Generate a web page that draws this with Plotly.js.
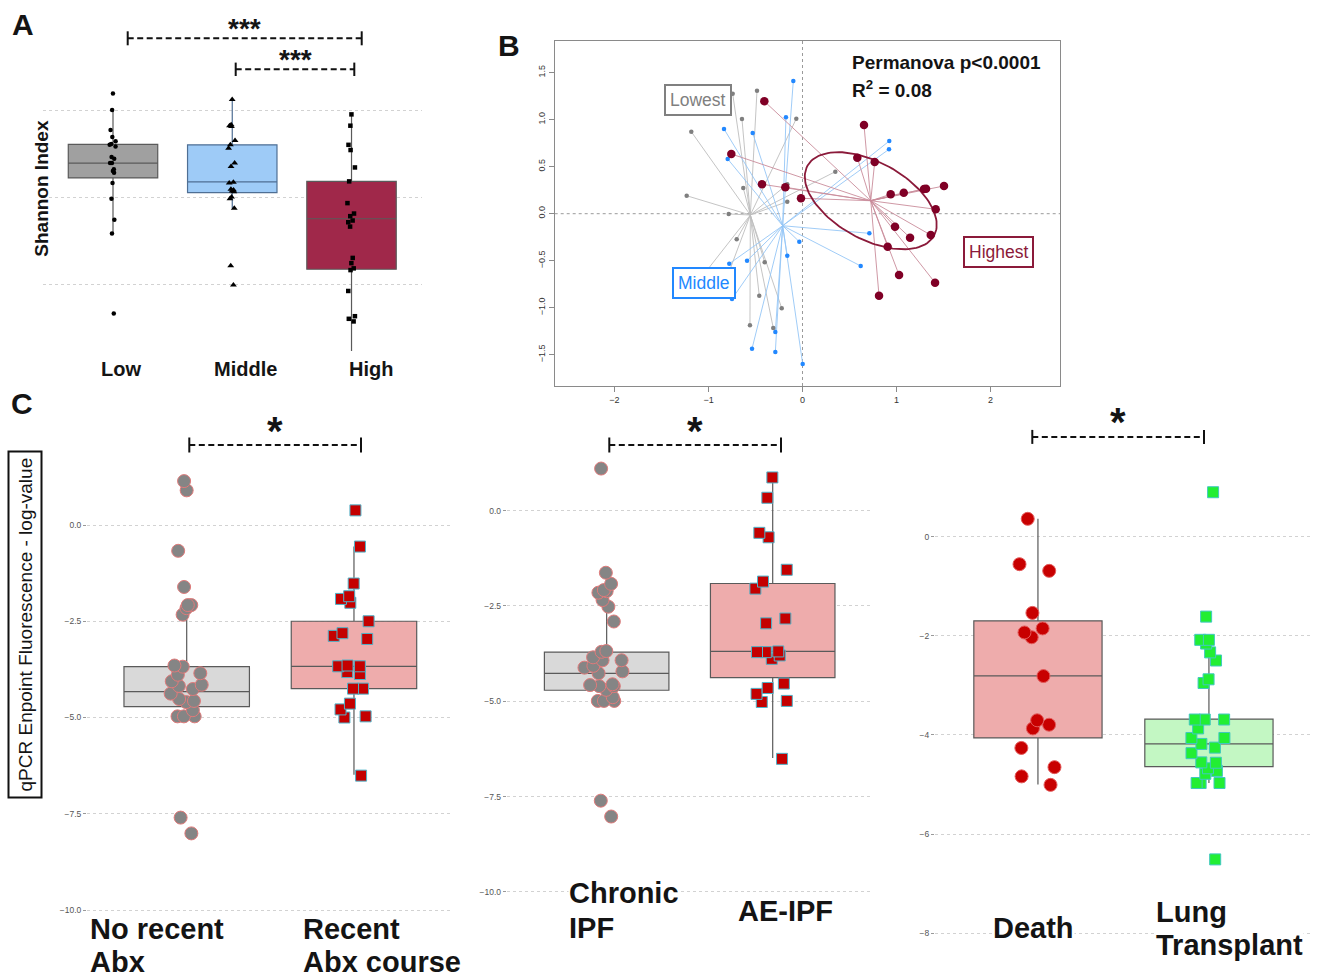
<!DOCTYPE html>
<html><head><meta charset="utf-8">
<script src="https://cdn.plot.ly/plotly-3.0.1.min.js"></script>
<style>body{margin:0;background:#fff}#chart{width:1325px;height:979px}</style>
</head><body><div id="chart"></div>
<script>
// ================= DATA =================
// Panel A – Shannon index by group
const aCategories = ['Low', 'Middle', 'High'];
const aLow    = [3.19,3.00,2.77,2.69,2.64,2.61,2.60,2.58,2.46,2.44,2.39,2.39,2.32,2.30,2.28,2.16,1.98,1.74,1.58,0.66];
const aMiddle = [3.12,2.83,2.82,2.81,2.65,2.60,2.56,2.39,2.35,2.17,2.16,2.09,2.08,2.07,2.06,2.00,1.98,1.87,1.21,0.99];
const aHigh   = [2.95,2.82,2.60,2.54,2.34,2.18,1.93,1.81,1.78,1.73,1.71,1.66,1.30,1.24,1.18,1.16,0.92,0.63,0.60,0.57];
// box statistics: [q1, median, q3, lower whisker, upper whisker]
const aBoxLow    = [2.22, 2.39, 2.605, 1.58, 3.00];
const aBoxMiddle = [2.05, 2.175, 2.60, 1.87, 3.115];
const aBoxHigh   = [1.17, 1.75, 2.18, 0.23, 2.95];

// Panel B – PCoA coordinates
const lowestX  = [-0.743,-0.484,-0.644,-0.066,-1.183,-0.630,-0.162,-0.162,-1.232,-0.785,0.349,-0.700,-0.402,-0.460,-0.221,-0.559,-0.311,-0.860,-1.055];
const lowestY  = [1.277,1.309,1.007,1.011,0.872,0.273,0.313,0.128,0.191,-0.003,0.447,-0.272,-0.517,-0.872,-1.006,-1.187,-1.216,-0.830,-0.652];
const middleX  = [-0.098,-0.176,-0.835,-0.530,-0.796,0.923,0.920,-0.034,-0.162,-0.590,-0.779,-0.750,-0.289,-0.537,-0.289,0.002,0.711,0.619];
const middleY  = [1.412,1.026,0.901,0.859,0.582,0.773,0.685,-0.298,-0.447,-0.500,-0.532,-0.907,-1.259,-1.436,-1.471,-1.599,-0.209,-0.556];
const highestX = [-0.406,-0.757,-0.431,-0.183,-0.016,0.654,0.583,0.768,0.938,1.077,1.293,1.314,1.505,1.417,0.984,1.144,1.364,0.906,1.027,1.410,0.814];
const highestY = [1.196,0.635,0.313,0.281,0.164,0.944,0.596,0.550,0.206,0.223,0.263,0.266,0.295,0.047,-0.138,-0.255,-0.227,-0.351,-0.652,-0.734,-0.872];
const centroidLowest  = [-0.555, -0.014];
const centroidMiddle  = [-0.211, -0.128];
const centroidHighest = [0.726, 0.138];
// ellipse of the Highest group: centre x, centre y, semi-major, semi-minor, angle (deg)
const highestEllipse = [0.726, 0.138, 0.769, 0.410, -28.9];

// Panel C1 – antibiotics
const c1Groups = ['No recent Abx', 'Recent Abx course'];
const c1NoRecent = [1.14,0.90,-0.67,-1.61,-2.08,-2.08,-2.16,-2.33,-3.68,-3.65,-3.85,-3.89,-4.06,-4.15,-4.18,-4.26,-4.38,-4.52,-4.57,-4.60,-4.81,-4.97,-4.97,-4.97,-7.60,-8.01];
const c1Recent   = [0.38,-0.56,-1.52,-1.85,-1.92,-2.02,-2.50,-2.81,-2.88,-2.96,-3.65,-3.67,-3.67,-3.82,-3.87,-4.25,-4.25,-4.64,-4.79,-5.00,-4.97,-6.51];
const c1BoxNoRecent = [-4.72, -4.33, -3.68, -4.97, -2.16];
const c1BoxRecent   = [-4.25, -3.67, -2.50, -6.49, -0.56];
const c1Ticks = [0, -2.5, -5, -7.5, -10];

// Panel C2 – disease state
const c2Groups = ['Chronic IPF', 'AE-IPF'];
const c2Chronic = [1.105,-1.628,-1.919,-2.083,-2.151,-2.112,-2.345,-2.519,-2.907,-3.702,-3.682,-3.847,-3.924,-3.924,-4.07,-4.215,-4.264,-4.118,-4.574,-4.603,-4.554,-4.603,-4.70,-4.99,-4.99,-4.99,-4.893,-7.607,-8.023];
const c2AE      = [0.872,0.339,-0.698,-0.581,-1.55,-1.86,-2.045,-2.955,-2.829,-3.692,-3.711,-3.711,-3.886,-3.798,-4.535,-4.651,-4.806,-4.99,-5.019,-6.51];
const c2BoxChronic = [-4.71, -4.27, -3.71, -4.99, -2.35];
const c2BoxAE      = [-4.38, -3.69, -1.91, -6.49, 0.87];
const c2Ticks = [0, -2.5, -5, -7.5, -10];

// Panel C3 – outcome
const c3Groups = ['Death', 'Lung Transplant'];
const c3Death = [0.357,-0.558,-0.692,-1.540,-1.935,-1.853,-2.031,-2.813,-3.705,-3.869,-3.795,-4.263,-4.650,-4.836,-5.007];
const c3Transplant = [0.893,-1.615,-2.083,-2.083,-2.158,-2.336,-2.5,-2.879,-2.954,-3.690,-3.690,-3.690,-3.869,-4.062,-4.062,-4.182,-4.256,-4.368,-4.561,-4.554,-4.673,-4.725,-4.784,-4.970,-4.970,-4.970,-6.510];
const c3BoxDeath      = [-4.06, -2.81, -1.70, -5.00, 0.36];
const c3BoxTransplant = [-4.64, -4.18, -3.68, -4.97, -2.21];
const c3Ticks = [0, -2, -4, -6, -8];

// ================= HELPERS =================
const W = 1325, H = 979;
const FONT = 'Liberation Sans, Arial, Helvetica, sans-serif';
const PX = x => x / W, PY = y => 1 - y / H;

function statBox(s, pos, xa, ya, fill, lineColor, width) {
  return {type:'box', orientation:'v', x:[pos], q1:[s[0]], median:[s[1]], q3:[s[2]],
    lowerfence:[s[3]], upperfence:[s[4]], xaxis:xa, yaxis:ya, fillcolor:fill,
    line:{color:lineColor, width:1.2}, whiskerwidth:0, width:width, boxpoints:false,
    hoverinfo:'skip', showlegend:false};
}
function pointsBox(vals, pos, xa, ya, marker, jitter, width) {
  return {type:'box', y:vals, x0:pos, xaxis:xa, yaxis:ya, boxpoints:'all', jitter:jitter,
    pointpos:0, fillcolor:'rgba(0,0,0,0)', line:{color:'rgba(0,0,0,0)', width:0},
    whiskerwidth:0, marker:marker, width:width, hoverinfo:'skip', showlegend:false};
}
function spider(xs, ys, c, color) {
  const X = [], Y = [];
  xs.forEach((x, i) => { X.push(c[0], x, null); Y.push(c[1], ys[i], null); });
  return {type:'scatter', mode:'lines', x:X, y:Y, xaxis:'x2', yaxis:'y2',
    line:{color:color, width:0.9}, hoverinfo:'skip', showlegend:false};
}
function pts(xs, ys, color, size) {
  return {type:'scatter', mode:'markers', x:xs, y:ys, xaxis:'x2', yaxis:'y2',
    marker:{color:color, size:size}, hoverinfo:'skip', showlegend:false};
}
function ellipse(e) {
  const [cx, cy, a, b, ang] = e, t = ang * Math.PI / 180, X = [], Y = [];
  for (let i = 0; i <= 120; i++) {
    const u = 2 * Math.PI * i / 120;
    X.push(cx + a * Math.cos(u) * Math.cos(t) - b * Math.sin(u) * Math.sin(t));
    Y.push(cy + a * Math.cos(u) * Math.sin(t) + b * Math.sin(u) * Math.cos(t));
  }
  return {type:'scatter', mode:'lines', x:X, y:Y, xaxis:'x2', yaxis:'y2',
    line:{color:'#8b1a3a', width:1.8}, hoverinfo:'skip', showlegend:false};
}
function txt(text, x, y, size, extra) {
  return Object.assign({text:text, x:PX(x), y:PY(y), xref:'paper', yref:'paper', showarrow:false,
    xanchor:'center', yanchor:'middle', font:{family:FONT, size:size, color:'#141414'}}, extra || {});
}
function seg(x0, y0, x1, y1, dash) {
  return {type:'line', xref:'paper', yref:'paper', x0:PX(x0), y0:PY(y0), x1:PX(x1), y1:PY(y1),
    line:{color:'#111', width:2, dash:dash || 'solid'}};
}
function bracket(x0, x1, y, h) {
  return [seg(x0, y, x1, y, '6px,3.5px'), seg(x0, y - h, x0, y + h), seg(x1, y - h, x1, y + h)];
}

// ================= TRACES =================
const mGrey  = {symbol:'circle', size:13, color:'#858585', line:{color:'#e07a7a', width:1}};
const mRedSq = {symbol:'square', size:11, color:'#c40000', line:{color:'#4fb3c9', width:1}};
const mRedC  = {symbol:'circle', size:13, color:'#c80000', line:{color:'#e35a5a', width:1}};
const mGreen = {symbol:'square', size:11, color:'#22ee33', line:{color:'#40c8c0', width:1}};

const traces = [
  // A
  statBox(aBoxLow, 0, 'x', 'y', '#a0a0a0', '#5a5a5a', 0.75),
  statBox(aBoxMiddle, 1, 'x', 'y', '#9ecbf7', '#4f6f94', 0.75),
  statBox(aBoxHigh, 2, 'x', 'y', '#a0284a', '#5a5a5a', 0.75),
  pointsBox(aLow, 0, 'x', 'y', {symbol:'circle', size:4.5, color:'#000'}, 0.1, 0.75),
  pointsBox(aMiddle, 1, 'x', 'y', {symbol:'triangle-up', size:6, color:'#000'}, 0.1, 0.75),
  pointsBox(aHigh, 2, 'x', 'y', {symbol:'square', size:4.5, color:'#000'}, 0.1, 0.75),
  // B
  spider(lowestX, lowestY, centroidLowest, '#bdbdbd'),
  spider(middleX, middleY, centroidMiddle, '#95c6f6'),
  spider(highestX, highestY, centroidHighest, '#c98c9b'),
  ellipse(highestEllipse),
  pts(lowestX, lowestY, '#7f7f7f', 4.5),
  pts(middleX, middleY, '#2288ff', 4.5),
  pts(highestX, highestY, '#800026', 8.5),
  // C1
  statBox(c1BoxNoRecent, 0, 'x3', 'y3', '#d9d9d9', '#5a5a5a', 0.75),
  statBox(c1BoxRecent, 1, 'x3', 'y3', '#eeacac', '#5a5a5a', 0.75),
  pointsBox(c1NoRecent, 0, 'x3', 'y3', mGrey, 0.4, 0.75),
  pointsBox(c1Recent, 1, 'x3', 'y3', mRedSq, 0.4, 0.75),
  // C2
  statBox(c2BoxChronic, 0, 'x4', 'y4', '#d9d9d9', '#5a5a5a', 0.75),
  statBox(c2BoxAE, 1, 'x4', 'y4', '#eeacac', '#5a5a5a', 0.75),
  pointsBox(c2Chronic, 0, 'x4', 'y4', mGrey, 0.4, 0.75),
  pointsBox(c2AE, 1, 'x4', 'y4', mRedSq, 0.4, 0.75),
  // C3
  statBox(c3BoxDeath, 0, 'x5', 'y5', '#eeacac', '#5a5a5a', 0.75),
  statBox(c3BoxTransplant, 1, 'x5', 'y5', '#c3f7c3', '#5a5a5a', 0.75),
  pointsBox(c3Death, 0, 'x5', 'y5', mRedC, 0.4, 0.75),
  pointsBox(c3Transplant, 1, 'x5', 'y5', mGreen, 0.4, 0.75)
];

// ================= LAYOUT =================
const hidden = {showgrid:false, zeroline:false, showticklabels:false, showline:false, ticks:''};
const cY = (range, ticks, fmt, anchor) => ({domain:[PY(940), PY(415)], range:range, tickvals:ticks,
  tickformat:fmt, ticks:'outside', ticklen:3, tickcolor:'#999', tickfont:{family:FONT, size:8.5, color:'#555'},
  showgrid:true, gridcolor:'#d2d2d2', griddash:'dot', gridwidth:1, zeroline:false, showline:false, anchor:anchor});
const bAx = {showline:true, mirror:true, linecolor:'#8a8a8a', linewidth:1.2, ticks:'outside', ticklen:5,
  tickcolor:'#8a8a8a', tickfont:{family:FONT, size:9, color:'#333'}, showgrid:false, zeroline:false};

const shapes = [
  {type:'line', xref:'x2', yref:'y2 domain', x0:0, x1:0, y0:0, y1:1, layer:'below', line:{color:'#9a9a9a', width:1, dash:'dot'}},
  {type:'line', xref:'x2 domain', yref:'y2', x0:0, x1:1, y0:0, y1:0, layer:'below', line:{color:'#9a9a9a', width:1, dash:'dot'}},
  ...bracket(127.7, 361.7, 38.3, 7),
  ...bracket(235.7, 354.3, 69.3, 6.7),
  ...bracket(189.3, 361, 445, 7.5),
  ...bracket(609.3, 781, 445, 7.5),
  ...bracket(1032.3, 1204, 436.9, 7)
];

const boxLab = (text, x, y, color) => txt(text, x, y, 17.5, {font:{family:FONT, size:17.5, color:color},
  bordercolor:color, borderwidth:2, borderpad:4, bgcolor:'#fff'});
const left = {xanchor:'left', bgcolor:'#fff', borderpad:0};

const annotations = [
  txt('<b>A</b>', 23, 24, 30), txt('<b>B</b>', 509, 45, 30), txt('<b>C</b>', 22, 403, 30),
  txt('<b>Shannon Index</b>', 41.7, 188, 19, {textangle:-90}),
  txt('<b>' + aCategories[0] + '</b>', 120.8, 369, 20),
  txt('<b>' + aCategories[1] + '</b>', 245.5, 369, 20),
  txt('<b>' + aCategories[2] + '</b>', 371.3, 369, 20),
  txt('<b>***</b>', 245, 28, 28), txt('<b>***</b>', 295, 59, 28),
  txt('<b>Permanova p&lt;0.0001</b>', 850, 62, 19, {xanchor:'left'}),
  txt('<b>R<sup>2</sup> = 0.08</b>', 850, 89, 19, {xanchor:'left'}),
  boxLab('Lowest', 697.7, 100.3, '#808080'),
  boxLab('Middle', 703.8, 282.5, '#2288ff'),
  boxLab('Highest', 998, 251.8, '#8b1a3a'),
  txt('qPCR Enpoint Fluorescence - log-value', 25, 624.5, 19,
      {textangle:-90, bordercolor:'#111', borderwidth:2, borderpad:5, bgcolor:'#fff'}),
  txt('<b>*</b>', 275.3, 431, 40), txt('<b>*</b>', 695, 431, 40), txt('<b>*</b>', 1118.3, 422, 40),
  txt('<b>No recent</b>', 88.5, 929, 29, left), txt('<b>Abx</b>', 88.5, 962, 29, left),
  txt('<b>Recent</b>', 302, 929, 29, left), txt('<b>Abx course</b>', 302, 962, 29, left),
  txt('<b>Chronic</b>', 568, 892.6, 29, left), txt('<b>IPF</b>', 568, 927.7, 29, left),
  txt('<b>AE-IPF</b>', 736.5, 910.5, 29, left),
  txt('<b>Death</b>', 991.5, 927.7, 29, left),
  txt('<b>Lung</b>', 1155, 912, 29, left), txt('<b>Transplant</b>', 1155, 945, 29, left)
];

const layout = {
  width:W, height:H, margin:{l:0, r:0, t:0, b:0}, paper_bgcolor:'#fff', plot_bgcolor:'rgba(0,0,0,0)',
  showlegend:false, boxmode:'overlay', font:{family:FONT, color:'#141414'},
  xaxis:Object.assign({domain:[PX(43), PX(422)], range:[-0.587, 2.591], anchor:'y'}, hidden),
  yaxis:{domain:[PY(355), PY(30)], range:[0.184, 3.92], tickvals:[1, 2, 3], showticklabels:false, ticks:'',
    showgrid:true, gridcolor:'#d2d2d2', griddash:'dot', zeroline:false, showline:false, anchor:'x'},
  xaxis2:Object.assign({domain:[PX(554.7), PX(1060)], range:[-2.636, 2.739], tickvals:[-2, -1, 0, 1, 2], anchor:'y2'}, bAx),
  yaxis2:Object.assign({domain:[PY(386), PY(41)], range:[-1.833, 1.837], tickvals:[-1.5, -1, -0.5, 0, 0.5, 1, 1.5],
    tickformat:'.1f', tickangle:-90, anchor:'x2'}, bAx),
  xaxis3:Object.assign({domain:[PX(87), PX(453)], range:[-0.596, 1.592], anchor:'y3'}, hidden),
  yaxis3:cY([-10.779, 2.857], c1Ticks, '.1f', 'x3'),
  xaxis4:Object.assign({domain:[PX(506.7), PX(870)], range:[-0.602, 1.586], anchor:'y4'}, hidden),
  yaxis4:cY([-11.262, 2.510], c2Ticks, '.1f', 'x4'),
  xaxis5:Object.assign({domain:[PX(935), PX(1311.7)], range:[-0.602, 1.601], anchor:'y5'}, hidden),
  yaxis5:cY([-8.135, 2.450], c3Ticks, 'd', 'x5'),
  shapes:shapes, annotations:annotations
};

Plotly.newPlot('chart', traces, layout, {staticPlot:true, displayModeBar:false});
</script>
</body></html>
